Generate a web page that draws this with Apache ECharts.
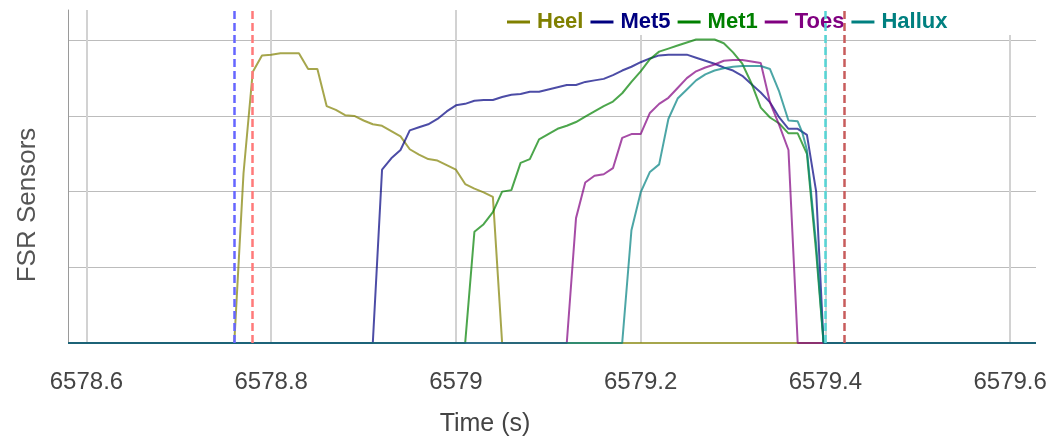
<!DOCTYPE html>
<html>
<head>
<meta charset="utf-8">
<script src="https://cdn.jsdelivr.net/npm/echarts@6/dist/echarts.min.js"></script>
<style>
  html, body { margin: 0; padding: 0; background: #fff; }
  #chart { width: 1057px; height: 439px; }
</style>
</head>
<body>
<div id="chart"></div>
<script>
// ---------- data (time in s, sensor value in grid units) ----------
const seriesNames = ['Heel', 'Met5', 'Met1', 'Toes', 'Hallux'];

const heel = [
  [6578.58,0],[6578.76,0],[6578.77,2.24],[6578.78,3.58],[6578.79,3.80],[6578.80,3.81],
  [6578.81,3.83],[6578.82,3.83],[6578.83,3.83],[6578.84,3.62],[6578.85,3.62],[6578.86,3.13],
  [6578.87,3.08],[6578.88,3.01],[6578.89,3.00],[6578.90,2.94],[6578.91,2.89],[6578.92,2.87],
  [6578.93,2.80],[6578.94,2.73],[6578.95,2.56],[6578.96,2.49],[6578.97,2.43],[6578.98,2.41],
  [6578.99,2.35],[6579.00,2.29],[6579.01,2.10],[6579.02,2.04],[6579.03,1.99],[6579.04,1.93],
  [6579.05,0],[6579.628,0]
];

const met5 = [
  [6578.58,0],[6578.91,0],[6578.92,2.29],[6578.93,2.44],[6578.94,2.55],[6578.95,2.81],
  [6578.96,2.85],[6578.97,2.89],[6578.98,2.96],[6578.99,3.06],[6579.00,3.14],[6579.01,3.16],
  [6579.02,3.20],[6579.03,3.21],[6579.04,3.21],[6579.05,3.25],[6579.06,3.28],[6579.07,3.29],
  [6579.08,3.32],[6579.09,3.32],[6579.10,3.35],[6579.11,3.38],[6579.12,3.41],[6579.13,3.41],
  [6579.14,3.45],[6579.15,3.47],[6579.16,3.49],[6579.17,3.54],[6579.18,3.60],[6579.19,3.65],
  [6579.20,3.71],[6579.21,3.76],[6579.22,3.80],[6579.23,3.81],[6579.24,3.81],[6579.25,3.81],
  [6579.26,3.77],[6579.27,3.73],[6579.28,3.69],[6579.29,3.64],[6579.30,3.60],[6579.31,3.53],
  [6579.32,3.42],[6579.33,3.31],[6579.34,3.18],[6579.35,2.98],[6579.36,2.83],[6579.37,2.83],
  [6579.38,2.75],[6579.39,2.00],[6579.398,0],[6579.628,0]
];

const met1 = [
  [6578.58,0],[6579.01,0],[6579.02,1.47],[6579.03,1.57],[6579.04,1.73],[6579.05,2.00],
  [6579.06,2.02],[6579.07,2.38],[6579.08,2.43],[6579.09,2.69],[6579.10,2.76],[6579.11,2.83],
  [6579.12,2.87],[6579.13,2.92],[6579.14,2.99],[6579.15,3.06],[6579.16,3.13],[6579.17,3.19],
  [6579.18,3.30],[6579.19,3.45],[6579.20,3.59],[6579.21,3.75],[6579.22,3.85],[6579.23,3.89],
  [6579.24,3.93],[6579.25,3.97],[6579.26,4.01],[6579.27,4.01],[6579.28,4.01],[6579.29,3.96],
  [6579.30,3.84],[6579.31,3.69],[6579.32,3.43],[6579.33,3.11],[6579.34,2.98],[6579.35,2.90],
  [6579.36,2.77],[6579.37,2.77],[6579.38,2.50],[6579.39,1.20],[6579.398,0],[6579.628,0]
];

const toes = [
  [6578.58,0],[6579.12,0],[6579.13,1.65],[6579.14,2.12],[6579.15,2.21],[6579.16,2.23],
  [6579.17,2.31],[6579.18,2.71],[6579.19,2.76],[6579.20,2.76],[6579.21,3.04],[6579.22,3.16],
  [6579.23,3.24],[6579.24,3.37],[6579.25,3.50],[6579.26,3.59],[6579.27,3.64],[6579.28,3.68],
  [6579.29,3.73],[6579.30,3.74],[6579.31,3.74],[6579.32,3.72],[6579.33,3.70],[6579.34,3.18],
  [6579.35,2.88],[6579.36,2.55],[6579.37,0],[6579.628,0]
];

const hallux = [
  [6578.58,0],[6579.18,0],[6579.19,1.49],[6579.20,1.99],[6579.21,2.26],[6579.22,2.36],
  [6579.23,2.96],[6579.24,3.23],[6579.25,3.35],[6579.26,3.47],[6579.27,3.55],[6579.28,3.60],
  [6579.29,3.63],[6579.30,3.65],[6579.31,3.66],[6579.32,3.66],[6579.33,3.66],[6579.34,3.62],
  [6579.35,3.32],[6579.36,2.94],[6579.37,2.93],[6579.375,2.78],[6579.38,2.55],[6579.39,1.30],
  [6579.398,0],[6579.628,0]
];

// vertical event markers (time, s)
const eventTimes = [6578.7595, 6578.7794, 6579.3989, 6579.4248];

// ---------- styles ----------
const seriesColors = ['#808000', '#000080', '#008000', '#800080', '#008080'];
const eventColors = ['#6666ff', '#ff7a7a', '#55d5d5', '#c85c5c'];
const FONT = "'Liberation Sans', Arial, sans-serif";

const chart = echarts.init(document.getElementById('chart'), null, { renderer: 'canvas' });

const seriesData = [heel, met5, met1, toes, hallux];

const series = seriesNames.map((name, i) => ({
  name: name,
  type: 'line',
  data: seriesData[i],
  showSymbol: false,
  symbol: 'none',
  animation: false,
  color: seriesColors[i],
  itemStyle: { color: seriesColors[i] },
  lineStyle: { width: 2, opacity: 0.7, color: seriesColors[i] },
  z: 2
}));

series.push({
  name: 'events',
  type: 'line',
  data: [],
  animation: false,
  markLine: {
    silent: true,
    symbol: 'none',
    animation: false,
    label: { show: false },
    lineStyle: { width: 2.5, type: [8, 4], opacity: 1 },
    emphasis: { disabled: true },
    data: eventTimes.map((t, i) => ({
      xAxis: t,
      lineStyle: { color: eventColors[i], type: [8, 4], width: 2.5, opacity: 1 }
    }))
  },
  z: 2
});

const option = {
  backgroundColor: '#ffffff',
  animation: false,
  grid: { left: 68, right: 21, top: 10, bottom: 96, containLabel: false },
  legend: {
    left: 507,
    top: 10,
    padding: 0,
    itemWidth: 23,
    itemHeight: 3,
    itemGap: 7,
    icon: 'rect',
    selectedMode: false,
    z: 5,
    textStyle: { fontSize: 22, fontWeight: 'bold', fontFamily: FONT, lineHeight: 24, padding: [0, 0, 0, 2] },
    data: seriesNames.map((n, i) => ({
      name: n,
      itemStyle: { color: seriesColors[i], opacity: 1 },
      textStyle: { color: seriesColors[i] }
    }))
  },
  xAxis: {
    type: 'value',
    min: 6578.58,
    max: 6579.628,
    splitNumber: 5,
    axisLine: { show: false },
    axisTick: { show: false },
    axisLabel: {
      showMinLabel: false,
      showMaxLabel: false,
      margin: 27,
      fontSize: 24,
      fontFamily: FONT,
      color: '#444',
      formatter: v => String(Number(v.toFixed(1)))
    },
    splitLine: {
      show: true,
      showMinLine: false,
      showMaxLine: false,
      lineStyle: { color: '#d2d2d2', width: 2 }
    }
  },
  yAxis: {
    type: 'value',
    min: 0,
    max: 4.4,
    interval: 1,
    axisLine: { show: true, onZero: false, lineStyle: { color: '#9a9a9a', width: 1 } },
    axisTick: { show: false },
    axisLabel: { show: false },
    splitLine: {
      show: true,
      showMinLine: false,
      showMaxLine: false,
      lineStyle: { color: '#bcbcbc', width: 1 }
    }
  },
  graphic: [
    { type: 'rect', z: 3, silent: true, shape: { x: 490, y: 0, width: 567, height: 35 }, style: { fill: '#ffffff' } },
    { type: 'text', z: 5, silent: true, x: 485, y: 424,
      style: { text: 'Time (s)', fontSize: 25, fontFamily: FONT, fill: '#444', align: 'center', verticalAlign: 'middle' } },
    { type: 'text', z: 5, silent: true, x: 28, y: 205, rotation: Math.PI / 2,
      style: { text: 'FSR Sensors', fontSize: 26, fontFamily: FONT, fill: '#555', align: 'center', verticalAlign: 'middle' } }
  ],
  series: series
};

chart.setOption(option);
</script>
</body>
</html>
